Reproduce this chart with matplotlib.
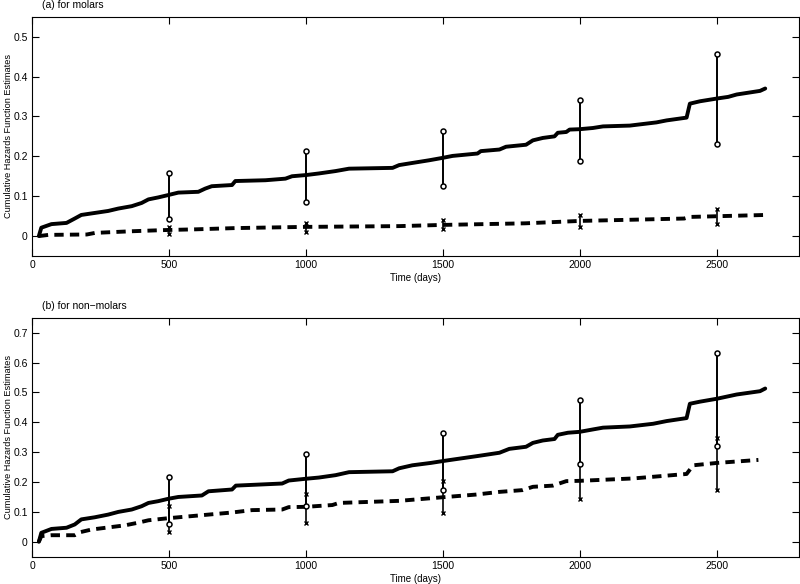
import matplotlib
matplotlib.use('Agg')
import matplotlib.pyplot as plt

plt.rcParams['font.family'] = ['Liberation Sans', 'DejaVu Sans']

# (a) molars - solid curve
t_a_solid = [25, 34, 71, 126, 156, 180, 229, 278, 315, 364, 400, 425, 461, 498, 534, 607, 632, 656,
             730, 742, 852, 925, 949, 1000, 1047, 1108, 1157, 1316, 1340, 1376, 1449, 1498, 1535,
             1626, 1638, 1706, 1730, 1803, 1828, 1864, 1907, 1919, 1950, 1962, 1999, 2047, 2084,
             2182, 2218, 2279, 2316, 2389, 2401, 2438, 2501, 2541, 2572, 2657, 2676]
h_a_solid = [0, 0.021, 0.030, 0.033, 0.044, 0.053, 0.058, 0.063, 0.069, 0.075, 0.083, 0.092, 0.097,
             0.103, 0.109, 0.111, 0.119, 0.125, 0.128, 0.138, 0.140, 0.144, 0.150, 0.153, 0.157,
             0.163, 0.169, 0.171, 0.178, 0.182, 0.190, 0.196, 0.201, 0.207, 0.213, 0.217, 0.224,
             0.229, 0.240, 0.246, 0.250, 0.259, 0.261, 0.267, 0.268, 0.271, 0.275, 0.277, 0.280,
             0.285, 0.290, 0.297, 0.332, 0.338, 0.345, 0.349, 0.355, 0.364, 0.370]
# (a) molars - dashed curve
t_a_dash = [25, 60, 200, 230, 360, 480, 600, 740, 990, 1340, 1500, 1800, 2000, 2380, 2400, 2680]
h_a_dash = [0, 0.003, 0.004, 0.008, 0.012, 0.015, 0.017, 0.020, 0.023, 0.025, 0.028, 0.032, 0.038,
            0.044, 0.048, 0.053]

# (b) non-molars - solid curve
t_b_solid = [25, 34, 71, 126, 156, 180, 229, 278, 315, 364, 400, 425, 461, 498, 534, 620, 644, 730,
             744, 913, 937, 1000, 1047, 1108, 1157, 1316, 1340, 1388, 1456, 1498, 1535, 1626, 1706,
             1742, 1803, 1828, 1864, 1907, 1919, 1956, 1999, 2047, 2084, 2182, 2267, 2316, 2389,
             2401, 2438, 2501, 2572, 2657, 2676]
h_b_solid = [0, 0.030, 0.043, 0.047, 0.058, 0.075, 0.082, 0.091, 0.100, 0.108, 0.119, 0.130, 0.136,
             0.144, 0.150, 0.155, 0.169, 0.175, 0.188, 0.195, 0.205, 0.211, 0.215, 0.223, 0.233,
             0.236, 0.246, 0.256, 0.264, 0.270, 0.275, 0.287, 0.298, 0.311, 0.318, 0.331, 0.339,
             0.344, 0.358, 0.365, 0.368, 0.376, 0.382, 0.386, 0.395, 0.404, 0.414, 0.462, 0.469,
             0.479, 0.493, 0.504, 0.513]
# (b) non-molars - dashed curve
t_b_dash = [25, 34, 71, 156, 175, 217, 339, 388, 425, 498, 632, 730, 803, 913, 937, 1000, 1096, 1120,
            1340, 1498, 1620, 1706, 1791, 1828, 1901, 1950, 1999, 2194, 2389, 2413, 2501, 2651]
h_b_dash = [0, 0.019, 0.022, 0.022, 0.032, 0.041, 0.055, 0.064, 0.072, 0.079, 0.090, 0.098, 0.106,
            0.108, 0.116, 0.117, 0.123, 0.130, 0.137, 0.149, 0.158, 0.167, 0.173, 0.184, 0.188,
            0.203, 0.204, 0.212, 0.227, 0.256, 0.264, 0.274]

# confidence intervals at selected times
t_ci = [500, 1000, 1500, 2000, 2500]
a_solid_lo = [0.044, 0.086, 0.125, 0.189, 0.230]
a_solid_hi = [0.158, 0.213, 0.263, 0.341, 0.456]
a_dash_lo = [0.005, 0.011, 0.017, 0.023, 0.030]
a_dash_hi = [0.023, 0.033, 0.040, 0.053, 0.068]
b_solid_lo = [0.060, 0.119, 0.173, 0.261, 0.319]
b_solid_hi = [0.217, 0.294, 0.363, 0.473, 0.631]
b_dash_lo = [0.033, 0.064, 0.095, 0.144, 0.174]
b_dash_hi = [0.119, 0.161, 0.202, 0.262, 0.348]

fig = plt.figure(figsize=(8, 5.84), dpi=100)
ax1 = fig.add_axes([0.04, 0.5616, 0.959, 0.4098])
ax2 = fig.add_axes([0.04, 0.0467, 0.959, 0.4093])


def draw(ax, ts, hs, td, hd, slo, shi, dlo, dhi, ylim, yticks, title, ty):
    ax.plot(ts, hs, color='black', lw=2.8, solid_capstyle='round')
    ax.plot(td, hd, color='black', lw=2.8, ls=(0, (2.4, 1.6)))
    for t, lo, hi in zip(t_ci, dlo, dhi):
        ax.plot([t, t], [lo, hi], color='black', lw=1.2, marker='x', ms=2.5, mew=1)
    for t, lo, hi in zip(t_ci, slo, shi):
        ax.plot([t, t], [lo, hi], color='black', lw=1.4, marker='o', ms=3.6,
                mfc='white', mew=1.1)
    ax.set_xlim(0, 2800)
    ax.set_ylim(*ylim)
    ax.set_xticks([0, 500, 1000, 1500, 2000, 2500])
    ax.set_yticks(yticks)
    ax.set_yticklabels(['0' if v == 0 else '%g' % v for v in yticks])
    ax.tick_params(direction='in', length=5, width=0.8, labelsize=7.5,
                   top=True, right=True, pad=3)
    for s in ax.spines.values():
        s.set_linewidth(0.8)
    ax.set_xlabel('Time (days)', fontsize=7, labelpad=2)
    ax.set_ylabel('Cumulative Hazards Function Estimates', fontsize=6.6)
    ax.yaxis.set_label_coords(-0.025, 0.5)
    fig.text(0.052, ty, title, fontsize=7.5, va='center')


draw(ax1, t_a_solid, h_a_solid, t_a_dash, h_a_dash, a_solid_lo, a_solid_hi, a_dash_lo, a_dash_hi,
     (-0.05, 0.55), [0, 0.1, 0.2, 0.3, 0.4, 0.5], '(a) for molars', 0.991)
draw(ax2, t_b_solid, h_b_solid, t_b_dash, h_b_dash, b_solid_lo, b_solid_hi, b_dash_lo, b_dash_hi,
     (-0.05, 0.75), [0, 0.1, 0.2, 0.3, 0.4, 0.5, 0.6, 0.7], '(b) for non\u2212molars', 0.476)

fig.savefig('out.png', dpi=100)
